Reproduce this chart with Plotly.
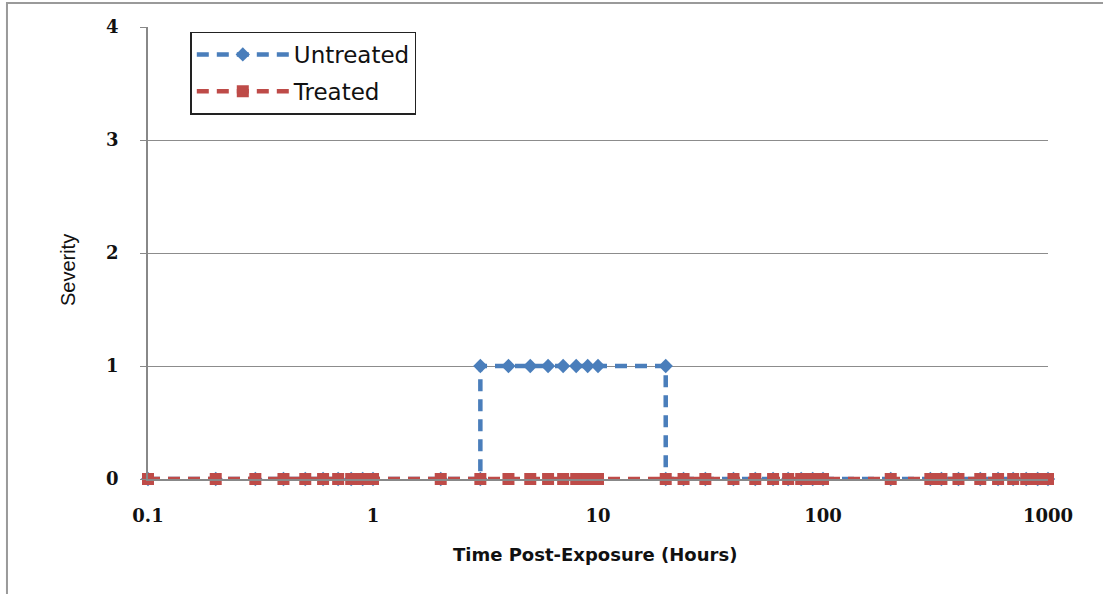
import plotly.graph_objects as go

# ---- data ----
hours = [0.1, 0.2, 0.3, 0.4, 0.5, 0.6, 0.7, 0.8, 0.9, 1, 2, 3, 4, 5, 6, 7, 8, 9, 10,
         20, 24, 30, 40, 50, 60, 70, 80, 90, 100, 200, 300, 336, 400, 500, 600, 700,
         800, 900, 1000]
treated = [0, 0, 0, 0, 0, 0, 0, 0, 0, 0, 0, 0, 0, 0, 0, 0, 0, 0, 0,
           0, 0, 0, 0, 0, 0, 0, 0, 0, 0, 0, 0, 0, 0, 0, 0, 0,
           0, 0, 0]

untreated_hours = [0.1, 0.2, 0.3, 0.4, 0.5, 0.6, 0.7, 0.8, 0.9, 1, 2, 3, 3, 4, 5, 6, 7, 8, 9, 10,
                   20, 20, 24, 30, 40, 50, 60, 70, 80, 90, 100, 200, 300, 336, 400, 500, 600,
                   700, 800, 900, 1000]
untreated = [0, 0, 0, 0, 0, 0, 0, 0, 0, 0, 0, 0, 1, 1, 1, 1, 1, 1, 1, 1,
             1, 0, 0, 0, 0, 0, 0, 0, 0, 0, 0, 0, 0, 0, 0, 0, 0,
             0, 0, 0, 0]

x_tickvals = [0.1, 1, 10, 100, 1000]
x_ticktext = ["0.1", "1", "10", "100", "1000"]
y_tickvals = [0, 1, 2, 3, 4]

BLUE = "#4A7EBB"
RED = "#BE4B48"

fig = go.Figure()
fig.add_trace(go.Scatter(
    x=untreated_hours, y=untreated, name="Untreated", mode="lines+markers",
    line=dict(color=BLUE, width=4.5, dash="12px,8px"),
    marker=dict(symbol="diamond", size=11, color=BLUE),
    cliponaxis=False, legendgroup="u",
))
fig.add_trace(go.Scatter(
    x=hours, y=treated, name="Treated", mode="lines+markers",
    line=dict(color=RED, width=4.5, dash="12px,8px"),
    marker=dict(symbol="square", size=12, color=RED),
    cliponaxis=False, legendgroup="t",
))

tickfont = dict(family="DejaVu Serif", size=18, color="#111111", weight="bold")

fig.update_layout(
    width=1103, height=594,
    margin=dict(l=148, r=55, t=27, b=115),
    paper_bgcolor="white", plot_bgcolor="white",
    showlegend=True,
    legend=dict(
        x=0.047, y=0.99, xanchor="left", yanchor="top",
        bordercolor="#222222", borderwidth=1.5, bgcolor="white",
        font=dict(family="DejaVu Sans", size=23, color="#111111"),
        tracegroupgap=4, itemwidth=92,
    ),
    xaxis=dict(
        type="log", range=[-1, 3], tickvals=x_tickvals, ticktext=x_ticktext,
        showgrid=False, showline=True, linecolor="#888888", linewidth=1.5,
        ticks="", tickfont=tickfont, ticklabelstandoff=20, zeroline=False,
    ),
    yaxis=dict(
        range=[0, 4], tickvals=y_tickvals, showgrid=True, gridcolor="#8c8c8c",
        gridwidth=1, showline=True, linecolor="#888888", linewidth=1.5,
        ticks="outside", ticklen=6, tickcolor="#888888",
        tickfont=tickfont, ticklabelstandoff=18, zeroline=False,
    ),
    annotations=[
        dict(text="<b>Time Post-Exposure (Hours)</b>", xref="paper", yref="paper",
             x=0.497, y=-0.168, showarrow=False, xanchor="center", yanchor="middle",
             font=dict(family="DejaVu Sans", size=18, color="#111111")),
        dict(text="Severity", xref="paper", yref="paper", textangle=-90,
             x=-0.089, y=0.462, showarrow=False, xanchor="center", yanchor="middle",
             font=dict(family="Liberation Sans", size=20, color="#111111")),
    ],
    shapes=[
        dict(type="rect", xref="paper", yref="paper", x0=-0.1567, x1=1.08,
             y0=-0.3, y1=1.053, line=dict(color="#9a9a9a", width=2), layer="below"),
    ],
)

fig.write_html("out.html", config={"displayModeBar": False},
               post_script="document.body.style.margin='0';")
